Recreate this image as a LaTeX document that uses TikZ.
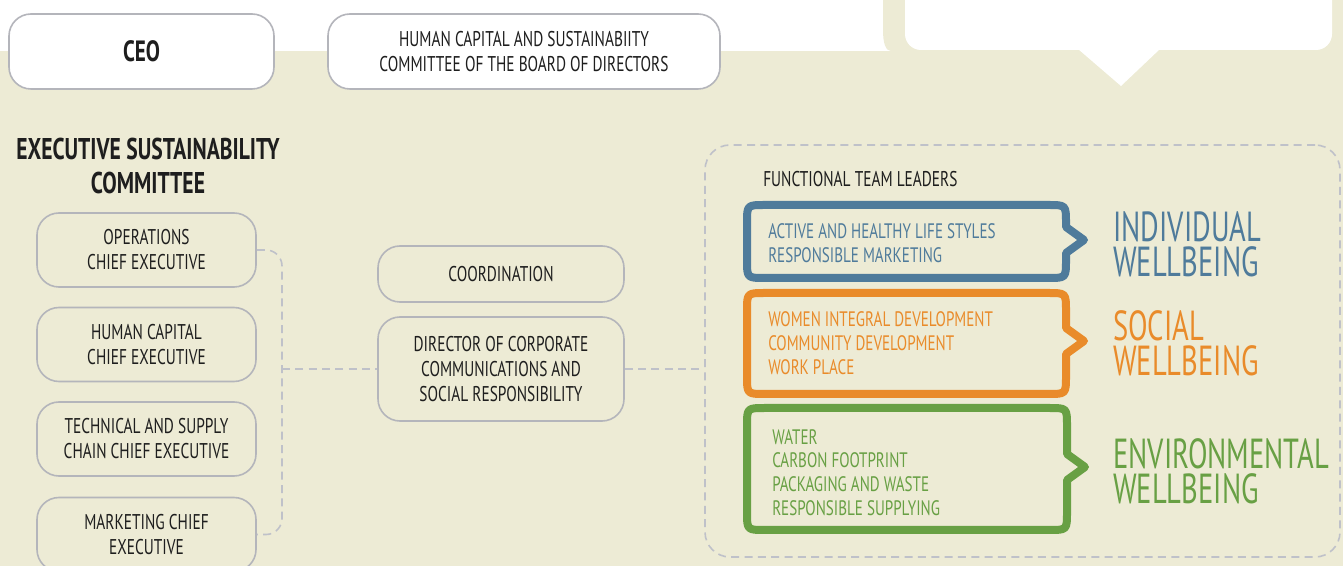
\documentclass[tikz,border=0pt]{standalone}
\usepackage{fontspec}
\setmainfont[FakeStretch=0.72]{PT Sans}
\newfontfamily\biglabel[FakeStretch=0.68]{PT Sans}
\definecolor{beige}{HTML}{EDEBD5}
\definecolor{boxgray}{HTML}{B4B5BB}
\definecolor{dashgray}{HTML}{BFC1C9}
\definecolor{ink}{HTML}{1E1E1E}
\definecolor{cblue}{HTML}{4F7B9B}
\definecolor{corange}{HTML}{E98B2A}
\definecolor{cgreen}{HTML}{68A044}
\newcommand\bubble[6]{%
 \draw[#1, line width=6pt, line join=round]
 ({#2},{#3+18}) .. controls ({#2},{#3}) .. ({#2+18},{#3}) -- ({#4-18},{#3})
 .. controls ({#4},{#3}) .. ({#4},{#3+18}) -- ({#4},{#6-13}) -- ({#4+18},{#6})
 -- ({#4},{#6+13}) -- ({#4},{#5-18}) .. controls ({#4},{#5}) .. ({#4-18},{#5})
 -- ({#2+18},{#5}) .. controls ({#2},{#5}) .. ({#2},{#5-18}) -- cycle;}
\begin{document}
\begin{tikzpicture}[x=0.75pt,y=-0.75pt,
  graybox/.style={draw=boxgray, line width=1.2pt, rounded corners=16.5pt, inner sep=0pt,
    align=center, text=ink, font=\fontsize{16}{18.75}\selectfont},
  leftbox/.style={graybox, fill=beige, minimum width=164.25pt, minimum height=55.5pt},
  midbox/.style={graybox, fill=beige, minimum width=184.5pt},
  dashline/.style={draw=dashgray, line width=1.2pt, dash pattern=on 6pt off 4pt},
  itemtext/.style={anchor=west, inner sep=0pt, align=left, font=\fontsize{15.7}{17.8}\selectfont},
  bigtext/.style={anchor=west, inner sep=0pt, align=left, font=\biglabel\fontsize{31.5}{26.5}\selectfont}]
\useasboundingbox (0,0) rectangle (1343,566);
\fill[white] (0,0) rectangle (1343,566);
\fill[beige] (0,51) rectangle (1343,566);
\fill[beige] (883,0) -- (883,30) .. controls (883,44) and (886,51) .. (891,51) -- (1343,51) -- (1343,0) -- cycle;
% white speech bubble at top right
\fill[white, rounded corners=12pt] (905,-30) rectangle (1332,50);
\fill[white] (1078,49) -- (1121,86) -- (1160,49) -- cycle;
% top boxes
\node[graybox, fill=white, minimum width=198.75pt, minimum height=56.25pt,
  font=\bfseries\fontsize{22}{24}\selectfont] (ceo) at (141.5,51.5) {CEO};
\node[graybox, fill=white, minimum width=294pt, minimum height=56.25pt] (board) at (524,51.5)
  {HUMAN CAPITAL AND SUSTAINABIITY\\COMMITTEE OF THE BOARD OF DIRECTORS};
% executive committee
\node[inner sep=0pt, align=center, text=ink, font=\bfseries\fontsize{22.5}{25.5}\selectfont] (esc) at (148,166)
  {EXECUTIVE SUSTAINABILITY\\COMMITTEE};
\node[leftbox] (ops) at (146.5,250) {OPERATIONS\\CHIEF EXECUTIVE};
\node[leftbox] (hc) at (146.5,344.5) {HUMAN CAPITAL\\CHIEF EXECUTIVE};
\node[leftbox] (tech) at (146.5,439) {TECHNICAL AND SUPPLY\\CHAIN CHIEF EXECUTIVE};
\node[leftbox] (mkt) at (146.5,534.5) {MARKETING CHIEF\\EXECUTIVE};
% centre
\node[midbox, minimum height=42pt] (coord) at (501,274) {COORDINATION};
\node[midbox, minimum height=78pt] (dir) at (501,369)
  {DIRECTOR OF CORPORATE\\COMMUNICATIONS AND\\SOCIAL RESPONSIBILITY};
% functional team
\node[dashline, rounded corners=18.75pt, minimum width=476.25pt, minimum height=309pt, inner sep=0pt] (team) at (1022.5,351) {};
\node[anchor=west, inner sep=0pt, text=ink, font=\fontsize{16}{18}\selectfont] (ftl) at (763,179) {FUNCTIONAL TEAM LEADERS};
% connectors
\coordinate (brk) at (282,369);
\draw[dashline, rounded corners=12pt] (ops.east) -| (brk) |- (mkt.east);
\draw[dashline] (brk) -- (dir.west);
\draw[dashline] (dir.east) -- (dir.east -| team.west);
% bubbles
\bubble{cblue}{747}{205}{1066}{278}{240}
\bubble{corange}{747}{293}{1066}{394}{341}
\bubble{cgreen}{747}{408}{1067}{530}{467}
\node[itemtext, text=cblue] (ind) at (768,243.5) {ACTIVE AND HEALTHY LIFE STYLES\\RESPONSIBLE MARKETING};
\node[itemtext, text=corange] (soc) at (768,343) {WOMEN INTEGRAL DEVELOPMENT\\COMMUNITY DEVELOPMENT\\WORK PLACE};
\node[itemtext, text=cgreen] (env) at (772,472.5) {WATER\\CARBON FOOTPRINT\\PACKAGING AND WASTE\\RESPONSIBLE SUPPLYING};
\node[bigtext, text=cblue] (indl) at (1113,244.5) {INDIVIDUAL\\WELLBEING};
\node[bigtext, text=corange] (socl) at (1113,343) {SOCIAL\\WELLBEING};
\node[bigtext, text=cgreen] (envl) at (1113,471) {ENVIRONMENTAL\\WELLBEING};
\end{tikzpicture}
\end{document}
